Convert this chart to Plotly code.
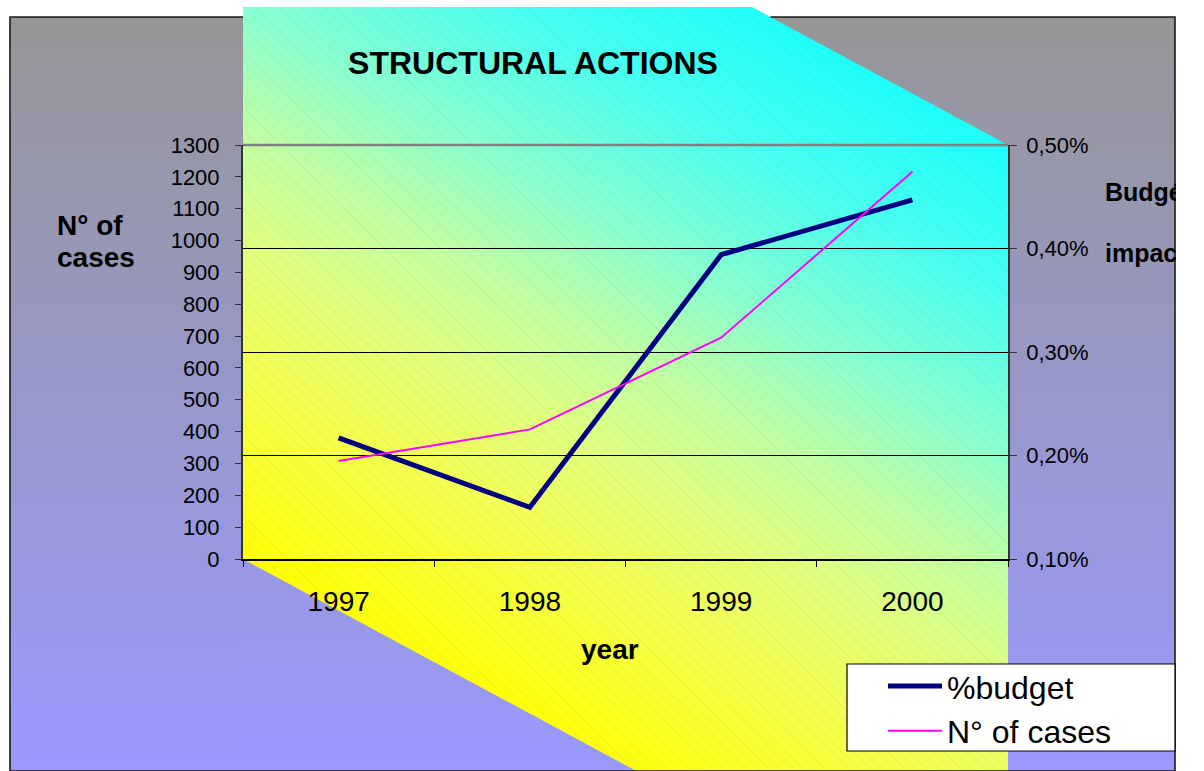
import numpy as np
import plotly.graph_objects as go

W, H = 1204, 771
FONT = "Liberation Sans, Arial, sans-serif"

# ---------------- data ----------------
years = ["1997", "1998", "1999", "2000"]
budget_pct = [0.217, 0.150, 0.394, 0.447]      # right axis, %
cases = [308, 407, 695, 1216]                   # left axis, N° of cases
left_ticks = list(range(0, 1301, 100))
right_ticks = [0.10, 0.20, 0.30, 0.40, 0.50]
right_tick_labels = ["0,10%", "0,20%", "0,30%", "0,40%", "0,50%"]

# ---------------- decoration geometry (pixels) ----------------
PL, PR, PT, PB = 243, 1008, 145, 559           # plot area
FX0, FX1, FY0, FY1 = 10, 1175, 17, 771         # outer frame
poly_x = [243, 752, 1008, 1008, 636, 243, 243]
poly_y = [7, 7, 145, 771, 771, 559, 7]

bg_scale = [[0, "#969696"], [1, "#9999ff"]]

fig = go.Figure()

# background frame: vertical gradient (heatmap, drawn below everything)
bg_rows = 40
bg_y_edges = np.linspace(FY0, FY1, bg_rows + 1)
bg_y_c = 0.5 * (bg_y_edges[:-1] + bg_y_edges[1:])
bg_z = np.repeat(bg_y_c[:, None], 2, axis=1)
fig.add_trace(go.Heatmap(
    x=[FX0, (FX0 + FX1) / 2, FX1], y=bg_y_edges, z=bg_z,
    colorscale=bg_scale, zmin=FY0, zmax=FY1, zsmooth="best",
    showscale=False, hoverinfo="skip", xaxis="x", yaxis="y"))

# diagonal yellow -> cyan gradient for the extruded wall
nx, ny = 64, 64
dx = (PR - PL) / nx
dy = (771 - 7) / ny
xc = PL + dx * (np.arange(nx) + 0.5)
yc = 7 + dy * (np.arange(ny) + 0.5)
U = (xc - PL) / (PR - PL)
V = (771 - yc) / (771 - 7)
Z = 0.58 * U[None, :] + V[:, None]
SMAX = 1.58
grad_stops = [
    (0.00, "#ffff00"), (0.29, "#ffff08"), (0.55, "#f2ff58"), (0.68, "#e2ff7c"),
    (0.84, "#c0ffa4"), (1.00, "#88ffd0"), (1.20, "#48fff0"), (1.38, "#20fffa"),
    (1.58, "#00ffff"),
]
grad_cs = [[s / SMAX, c] for s, c in grad_stops]
fig.add_trace(go.Heatmap(
    x=xc, y=yc, z=Z, colorscale=grad_cs, zmin=0, zmax=SMAX, zsmooth="best",
    showscale=False, hoverinfo="skip", xaxis="x", yaxis="y"))

# masks restoring the background outside the wall
f17 = (FY0 - 6) / (FY1 - 6)
fig.add_trace(go.Scatter(
    x=[752, 1008, 1010, 1010, 752, 752], y=[7, 145, 145, 5, 5, 7],
    mode="lines", fill="toself", line=dict(width=0),
    fillgradient=dict(type="vertical",
                      colorscale=[[0, "#ffffff"], [f17, "#ffffff"], [f17, "#969696"], [1, "#9999ff"]],
                      start=6, stop=FY1),
    hoverinfo="skip", showlegend=False, xaxis="x", yaxis="y"))
fig.add_trace(go.Scatter(
    x=[243, 636, 640, 241, 241, 243], y=[559, 771, 773, 773, 559, 559],
    mode="lines", fill="toself", line=dict(width=0),
    fillgradient=dict(type="vertical", colorscale=bg_scale, start=FY0, stop=FY1),
    hoverinfo="skip", showlegend=False, xaxis="x", yaxis="y"))

# hatching on the wall
fig.add_trace(go.Scatter(
    x=poly_x, y=poly_y, mode="lines", fill="toself", line=dict(width=0),
    fillcolor="rgba(0,0,0,0)",
    fillpattern=dict(shape="\\", fgcolor="rgba(120,120,120,0.30)",
                     bgcolor="rgba(0,0,0,0)", size=8, solidity=0.1),
    hoverinfo="skip", showlegend=False, xaxis="x", yaxis="y"))

# frame border (hidden where the wall rises above it)
fig.add_trace(go.Scatter(
    x=[770.5, FX1, FX1, FX0, FX0, PL], y=[FY0, FY0, FY1, FY1, FY0, FY0],
    mode="lines", line=dict(color="#1a1a1a", width=1.6),
    hoverinfo="skip", showlegend=False, xaxis="x", yaxis="y"))

# right axis title (clipped by the frame, as in the original)
fig.add_trace(go.Scatter(
    x=[1105, 1105], y=[195, 256], mode="text",
    text=["Budgétary", "impact"], textposition="middle right",
    textfont=dict(family=FONT, size=25, color="black", weight="bold"),
    marker=dict(size=1), cliponaxis=True,
    hoverinfo="skip", showlegend=False, xaxis="x", yaxis="y"))

# ---------------- data traces ----------------
fig.add_trace(go.Scatter(
    x=years, y=budget_pct, name="%budget", mode="lines",
    line=dict(color="#000080", width=5), xaxis="x2", yaxis="y2"))
fig.add_trace(go.Scatter(
    x=years, y=cases, name="N° of cases", mode="lines",
    line=dict(color="#ff00ff", width=2), xaxis="x2", yaxis="y3"))

fig.update_layout(
    width=W, height=H, autosize=False,
    margin=dict(l=0, r=0, t=0, b=0, pad=0, autoexpand=False),
    paper_bgcolor="white", plot_bgcolor="rgba(0,0,0,0)",
    separators=", ",
    font=dict(family=FONT, color="black"),
    title=dict(text="<b>STRUCTURAL ACTIONS</b>", x=533 / W, y=1 - 63 / H,
               xref="container", yref="container", xanchor="center", yanchor="middle",
               font=dict(family=FONT, size=32, color="black")),
    xaxis=dict(domain=[0, 1176 / W], range=[0, 1176], visible=False,
               fixedrange=True, automargin=False),
    yaxis=dict(domain=[0, 1], range=[H, 0], visible=False,
               fixedrange=True, automargin=False),
    xaxis2=dict(domain=[PL / W, PR / W], anchor="y2", type="category",
                categoryorder="array", categoryarray=years, range=[-0.5, 3.5],
                tickson="boundaries", ticks="outside", ticklen=6, tickcolor="black",
                showline=True, linecolor="black", linewidth=1.5, showgrid=False,
                tickfont=dict(family=FONT, size=28, color="black"),
                ticklabelstandoff=17, fixedrange=True, automargin=False),
    yaxis2=dict(domain=[1 - PB / H, 1 - PT / H], anchor="x2", side="right",
                range=[0.1, 0.5], tickvals=right_ticks, ticktext=right_tick_labels,
                ticks="outside", ticklen=7, tickcolor="#333333",
                showline=True, linecolor="#333333", linewidth=1.5,
                showgrid=True, gridcolor="black", gridwidth=1, zeroline=False,
                tickfont=dict(family=FONT, size=22, color="black"),
                ticklabelstandoff=5, fixedrange=True, automargin=False),
    yaxis3=dict(overlaying="y2", anchor="x2", side="left", range=[0, 1300],
                tickvals=left_ticks, ticks="outside", ticklen=6, tickcolor="#333333",
                showline=True, linecolor="#333333", linewidth=2,
                showgrid=False, zeroline=False,
                tickfont=dict(family=FONT, size=22, color="black"),
                ticklabelstandoff=11, fixedrange=True, automargin=False),
    showlegend=True,
    legend=dict(x=883 / W, y=1 - 658.8 / H, xanchor="left", yanchor="top",
                bgcolor="rgba(0,0,0,0)", borderwidth=0, itemwidth=54,
                font=dict(family=FONT, size=32, color="black"), traceorder="normal"),
    annotations=[
        dict(text="<b>N° of</b>", x=55 / W, y=1 - 225 / H, xref="paper", yref="paper",
             xanchor="left", yanchor="middle", align="left", showarrow=False,
             font=dict(family=FONT, size=28, color="black")),
        dict(text="<b>cases</b>", x=55 / W, y=1 - 258 / H, xref="paper", yref="paper",
             xanchor="left", yanchor="middle", align="left", showarrow=False,
             font=dict(family=FONT, size=28, color="black")),
        dict(text="<b>year</b>", x=610 / W, y=1 - 649 / H, xref="paper", yref="paper",
             xanchor="center", yanchor="middle", showarrow=False,
             font=dict(family=FONT, size=28, color="black")),
    ],
    shapes=[
        dict(type="line", xref="x2 domain", yref="y2 domain", x0=0, x1=1, y0=1, y1=1,
             line=dict(color="#808080", width=2.5), layer="above"),
        dict(type="rect", xref="x", yref="y", x0=847, x1=1175, y0=664, y1=751,
             fillcolor="white", line=dict(color="black", width=1.2), layer="above"),
    ],
)

fig.write_html("out.html", config={"displayModeBar": False},
               post_script="document.body.style.margin='0';document.body.style.overflow='hidden';")
